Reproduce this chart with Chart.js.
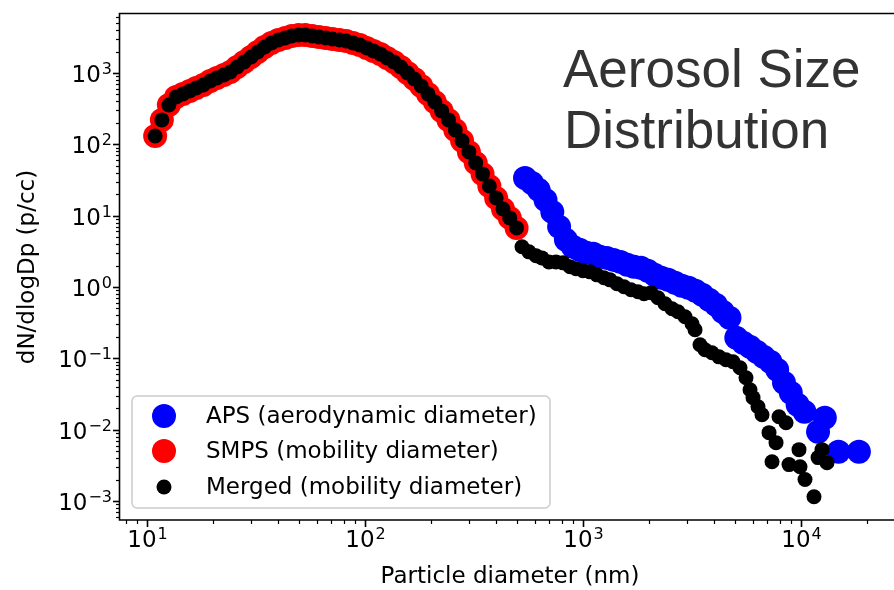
<!DOCTYPE html>
<html>
<head>
<meta charset="utf-8">
<script src="https://cdn.jsdelivr.net/npm/chart.js@4.4.0/dist/chart.umd.min.js"></script>
<style>
  html, body { margin: 0; padding: 0; background: #fff; }
  canvas { display: block; }
</style>
</head>
<body>
<canvas id="sizeChart" width="894" height="590"></canvas>
<script>
// SMPS (mobility diameter, nm) and dN/dlogDp
const smpsDp = [10.9, 11.7, 12.6, 13.6, 14.6, 15.7, 16.8, 18.1, 19.5, 20.9, 22.5, 24.1, 25.9, 27.9,
  30.0, 32.2, 34.6, 37.2, 40.0, 43.0, 46.1, 49.6, 53.3, 57.3, 61.5, 66.1, 71.0, 76.4, 82.0, 88.2,
  94.7, 101.8, 109.4, 117.6, 126.3, 135.8, 145.9, 156.8, 168.5, 181.1, 194.6, 209.1, 224.7, 241.4,
  259.5, 278.8, 299.6, 322.0, 346.0, 371.8, 399.5, 429.4, 461.4, 495.8];
const smpsDN = [131, 220, 356, 461, 508, 560, 616, 679, 773, 851, 938, 1033, 1214, 1426,
  1675, 1968, 2312, 2631, 2898, 3093, 3300, 3406, 3406, 3300, 3192, 3093, 2993, 2898, 2805, 2631,
  2466, 2239, 2032, 1845, 1622, 1426, 1214, 1000, 824, 658, 508, 393, 294, 220,
  159, 112, 78.3, 54.9, 38.5, 26.1, 17.7, 12.4, 9.31, 6.74];

// APS (aerodynamic diameter, nm)
const apsDp = [542, 583, 626, 673, 723, 777, 835, 898, 965, 1037, 1114, 1197, 1286, 1382, 1486,
  1596, 1715, 1843, 1981, 2129, 2288, 2458, 2642, 2839, 3051, 3278, 3523, 3786, 4068, 4371, 4698,
  5048, 5425, 5829, 6264, 6732, 7234, 7774, 8354, 8977, 9647, 10370, 11970, 12860, 14860, 18430];
const apsDN = [33.8, 28.8, 23.0, 16.6, 11.3, 6.97, 4.58, 3.66, 3.32, 3.01, 2.92, 2.65, 2.56, 2.40, 2.25,
  2.05, 1.92, 1.86, 1.69, 1.48, 1.35, 1.26, 1.15, 1.04, 0.975, 0.885, 0.778, 0.662, 0.564, 0.450, 0.371,
  0.195, 0.165, 0.145, 0.124, 0.105, 0.0895, 0.0692, 0.0455, 0.0330, 0.0224, 0.0179, 0.00937, 0.0147, 0.00492, 0.00492];

// APS part of the merged distribution (converted to mobility diameter)
const mergedApsDp = [525, 565, 609, 648, 698, 752, 810, 872, 929, 1000, 1077, 1159, 1248, 1330, 1432,
  1542, 1661, 1788, 1905, 2051, 2208, 2378, 2561, 2728, 2938, 3162, 3265, 3441, 3627, 3905, 4206,
  4529, 4876, 5251, 5594, 5836, 6024, 6350, 6624, 7133, 7362, 7681, 7925, 8536, 8810, 9790, 9895,
  10430, 11470, 11970, 12480, 13160];
const mergedApsDN = [3.66, 3.11, 2.74, 2.56, 2.25, 2.25, 2.18, 1.92, 1.80, 1.69, 1.63, 1.48, 1.35, 1.26, 1.11,
  1.01, 0.914, 0.857, 0.803, 0.830, 0.706, 0.582, 0.495, 0.450, 0.383, 0.305, 0.252, 0.155, 0.132, 0.120, 0.105,
  0.0955, 0.0895, 0.0738, 0.0535, 0.0363, 0.0281, 0.0210, 0.0162, 0.00908, 0.00356, 0.00658, 0.0152, 0.0125, 0.00324, 0.00525, 0.00303,
  0.00200, 0.00115, 0.00406, 0.00525, 0.00345];

const mergedDp = smpsDp.concat(mergedApsDp);
const mergedDN = smpsDN.concat(mergedApsDN);

// axis ticks: exponent labels for majors, plain values for minors
const xTicks = [8, 9, 10, 20, 30, 40, 50, 60, 70, 80, 90, 100, 200, 300, 400, 500, 600, 700, 800, 900,
  1000, 2000, 3000, 4000, 5000, 6000, 7000, 8000, 9000, 10000, 20000];
const xTickLabels = { 10: '1', 100: '2', 1000: '3', 10000: '4' };
const yTicks = [6e-4, 7e-4, 8e-4, 9e-4, 1e-3, 2e-3, 3e-3, 4e-3, 5e-3, 6e-3, 7e-3, 8e-3, 9e-3,
  1e-2, 2e-2, 3e-2, 4e-2, 5e-2, 6e-2, 7e-2, 8e-2, 9e-2, 1e-1, 2e-1, 3e-1, 4e-1, 5e-1, 6e-1, 7e-1, 8e-1, 9e-1,
  1, 2, 3, 4, 5, 6, 7, 8, 9, 10, 20, 30, 40, 50, 60, 70, 80, 90, 100, 200, 300, 400, 500, 600, 700, 800, 900,
  1000, 2000, 3000, 4000, 5000, 6000];
const yTickLabels = { 0.001: '−3', 0.01: '−2', 0.1: '−1', 1: '0', 10: '1', 100: '2', 1000: '3' };

function toPoints(xs, ys) {
  return xs.map((x, i) => ({ x: x, y: ys[i] }));
}

function isMajor(v) {
  const l = Math.log10(v);
  return Math.abs(l - Math.round(l)) < 1e-9;
}

const FONT = 'DejaVu Sans';
const FS = 23;   // main text size
const SUP = 16;  // exponent size

// "10" with a raised exponent; anchor: 'center' (x axis) or 'right' (y axis)
function drawPow(ctx, exp, x, baseline, anchor) {
  ctx.font = FS + 'px "' + FONT + '"';
  const w1 = ctx.measureText('10').width;
  ctx.font = SUP + 'px "' + FONT + '"';
  const w2 = ctx.measureText(exp).width;
  const left = anchor === 'right' ? x - w1 - w2 - 1 : x - (w1 + w2 + 1) / 2;
  ctx.textAlign = 'left';
  ctx.textBaseline = 'alphabetic';
  ctx.font = FS + 'px "' + FONT + '"';
  ctx.fillText('10', left, baseline);
  ctx.font = SUP + 'px "' + FONT + '"';
  ctx.fillText(exp, left + w1 + 1, baseline - 8);
}

// spines, tick marks and labels, axis titles, in-plot title and legend
const decor = {
  id: 'decor',
  afterDatasetsDraw(chart) {
    const { ctx, chartArea: a, scales: { x, y } } = chart;
    ctx.save();
    ctx.strokeStyle = '#000';
    ctx.fillStyle = '#000';

    // tick marks + labels
    xTicks.forEach(v => {
      const px = Math.round(x.getPixelForValue(v)) + 0.5;
      const major = isMajor(v);
      ctx.lineWidth = major ? 1.6 : 1.2;
      ctx.beginPath();
      ctx.moveTo(px, a.bottom);
      ctx.lineTo(px, a.bottom + (major ? 7 : 4));
      ctx.stroke();
      if (xTickLabels[v]) drawPow(ctx, xTickLabels[v], px, 547, 'center');
    });
    yTicks.forEach(v => {
      const py = Math.round(y.getPixelForValue(v)) + 0.5;
      const major = isMajor(v);
      ctx.lineWidth = major ? 1.6 : 1.2;
      ctx.beginPath();
      ctx.moveTo(a.left, py);
      ctx.lineTo(a.left - (major ? 7 : 4), py);
      ctx.stroke();
      if (yTickLabels[v]) drawPow(ctx, yTickLabels[v], 112, py + 8.5, 'right');
    });

    // spines (right one is outside the picture)
    ctx.lineWidth = 1.6;
    ctx.beginPath();
    ctx.moveTo(a.right + 2, a.top + 0.5);
    ctx.lineTo(a.left - 0.5, a.top + 0.5);
    ctx.lineTo(a.left - 0.5, a.bottom);
    ctx.lineTo(a.right + 2, a.bottom);
    ctx.stroke();

    // axis titles
    ctx.font = FS + 'px "' + FONT + '"';
    ctx.textAlign = 'center';
    ctx.textBaseline = 'middle';
    ctx.fillText('Particle diameter (nm)', 510, 577);
    ctx.save();
    ctx.translate(28, 267);
    ctx.rotate(-Math.PI / 2);
    ctx.fillText('dN/dlogDp (p/cc)', 0, 0);
    ctx.restore();

    // big title inside the plot
    ctx.fillStyle = '#333333';
    ctx.font = '53px "Liberation Sans"';
    ctx.textAlign = 'left';
    ctx.textBaseline = 'alphabetic';
    ctx.fillText('Aerosol Size', 563, 87);
    ctx.fillText('Distribution', 564, 148);

    // legend
    const bx = 132, by = 396, bw = 418, bh = 112, r = 5;
    ctx.fillStyle = 'rgba(255,255,255,0.8)';
    ctx.strokeStyle = '#cccccc';
    ctx.lineWidth = 1.5;
    ctx.beginPath();
    ctx.roundRect(bx, by, bw, bh, r);
    ctx.fill();
    ctx.stroke();
    const rowY = [416, 451, 487];
    ctx.font = FS + 'px "' + FONT + '"';
    ctx.textBaseline = 'middle';
    chart.data.datasets.forEach((ds, i) => {
      ctx.fillStyle = ds.backgroundColor;
      ctx.beginPath();
      ctx.arc(164, rowY[i], ds.pointRadius, 0, Math.PI * 2);
      ctx.fill();
      ctx.fillStyle = '#000';
      ctx.fillText(ds.label, 206, rowY[i] + 1);
    });
    ctx.restore();
  }
};

const ctx = document.getElementById('sizeChart').getContext('2d');
const chart = new Chart(ctx, {
  type: 'scatter',
  data: {
    datasets: [{
      label: 'APS (aerodynamic diameter)',
      data: toPoints(apsDp, apsDN),
      backgroundColor: '#0000ff',
      borderWidth: 0,
      pointRadius: 12,
      order: 3
    }, {
      label: 'SMPS (mobility diameter)',
      data: toPoints(smpsDp, smpsDN),
      backgroundColor: '#ff0000',
      borderWidth: 0,
      pointRadius: 12,
      order: 2
    }, {
      label: 'Merged (mobility diameter)',
      data: toPoints(mergedDp, mergedDN),
      backgroundColor: '#000000',
      borderWidth: 0,
      pointRadius: 7.5,
      order: 1
    }]
  },
  options: {
    responsive: false,
    animation: false,
    devicePixelRatio: 1,
    events: [],
    // no automatic padding for the big markers: the plot runs to the right edge
    layout: { autoPadding: false, padding: { top: 13, right: 0, left: 0, bottom: 0 } },
    plugins: {
      legend: { display: false },
      tooltip: { enabled: false },
      title: { display: false }
    },
    scales: {
      x: {
        type: 'logarithmic',
        min: 7.52,
        max: 26700,
        grid: { display: false, drawTicks: false },
        border: { display: false },
        ticks: { display: false },
        afterFit: s => { s.height = 70; s.paddingLeft = 0; s.paddingRight = 0; }
      },
      y: {
        type: 'logarithmic',
        min: 5.42e-4,
        max: 6934,
        grid: { display: false, drawTicks: false },
        border: { display: false },
        ticks: { display: false },
        afterFit: s => { s.width = 120; s.paddingTop = 0; s.paddingBottom = 0; }
      }
    }
  },
  plugins: [decor]
});
</script>
</body>
</html>
